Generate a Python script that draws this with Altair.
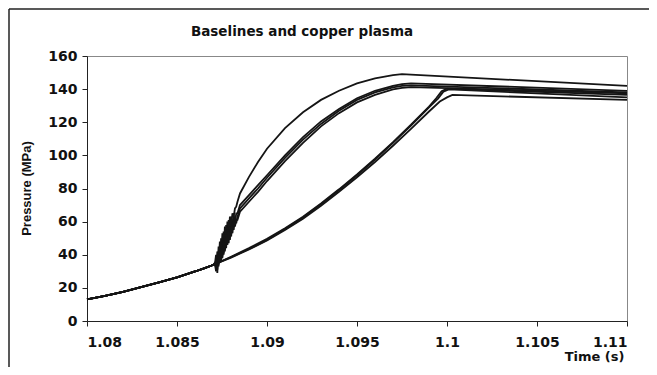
import altair as alt
import pandas as pd

# ---- data ----
CHART_TITLE = "Baselines and copper plasma"

# common rise before the onset (all runs)
PRE_T = [1.080, 1.081, 1.082, 1.083, 1.084, 1.085, 1.086, 1.0865, 1.087]
PRE_P = [13.0, 15.1, 17.6, 20.4, 23.3, 26.4, 29.9, 31.8, 33.8]

# baselines (slow rise)
SLOW_T = [1.088, 1.089, 1.090, 1.091, 1.092, 1.093, 1.094, 1.095, 1.096, 1.097, 1.098, 1.099]
S1_P = [38.8, 44.0, 49.6, 56.0, 63.0, 71.0, 79.5, 88.5, 98.0, 108.0, 118.5, 129.5]
S2_P = [38.5, 43.5, 49.0, 55.5, 62.5, 70.5, 79.0, 88.0, 97.5, 107.5, 118.0, 129.0]
S3_P = [38.3, 43.2, 48.6, 55.0, 61.8, 69.6, 78.0, 86.8, 96.0, 105.8, 116.0, 126.5]
S1_TAIL_T = [1.0994, 1.0997, 1.1000, 1.1100]
S1_TAIL_P = [134.5, 138.8, 140.3, 136.5]
S2_TAIL_T = [1.0995, 1.0998, 1.1001, 1.1100]
S2_TAIL_P = [134.3, 138.5, 139.8, 135.0]
S3_TAIL_T = [1.0996, 1.1000, 1.1003, 1.1100]
S3_TAIL_P = [132.5, 135.0, 136.5, 133.5]

# copper plasma (noisy onset, fast rise)
NOISE_T = [1.08710, 1.08717, 1.08724, 1.08731, 1.08738, 1.08745, 1.08752, 1.08759,
           1.08766, 1.08773, 1.08780, 1.08787, 1.08794, 1.08801, 1.08808, 1.08815,
           1.08822, 1.08829, 1.08836]
F1_NOISE = [35, 30, 42, 33, 48, 37, 53, 41, 57, 46, 60, 52, 63, 58, 65, 63, 68, 69, 72]
F2_NOISE = [34, 40, 29, 45, 35, 50, 39, 54, 43, 58, 47, 61, 51, 63, 55, 64, 59, 65, 65]
F3_NOISE = [35, 32, 38, 34, 44, 36, 47, 40, 51, 44, 55, 47, 57, 51, 60, 55, 62, 59, 63]
F4_NOISE = [34, 36, 31, 40, 35, 43, 38, 48, 42, 52, 46, 54, 49, 57, 53, 60, 57, 61, 61]
FAST_T = [1.0885, 1.089, 1.0895, 1.090, 1.091, 1.092, 1.093, 1.094, 1.095, 1.096, 1.097, 1.0975, 1.098, 1.110]
F1_P = [77.0, 87.0, 96.0, 104.0, 116.5, 126.0, 133.5, 139.0, 143.5, 146.5, 148.5, 149.0, 148.7, 142.0]
F2_P = [70.0, 76.0, 82.0, 88.0, 100.0, 111.0, 120.5, 128.0, 134.5, 139.0, 142.0, 143.0, 143.5, 139.0]
F3_P = [68.0, 74.0, 80.0, 86.5, 98.5, 109.5, 119.0, 127.0, 133.5, 138.0, 141.0, 142.0, 142.3, 138.0]
F4_P = [66.0, 72.0, 78.0, 84.5, 96.5, 107.5, 117.5, 125.5, 132.0, 136.5, 139.8, 140.8, 141.2, 137.5]

X_TICKS = [1.08, 1.085, 1.09, 1.095, 1.1, 1.105, 1.11]
Y_TICKS = [0, 20, 40, 60, 80, 100, 120, 140, 160]

# ---- build long table ----
series = {
    "S1": (PRE_T + SLOW_T + S1_TAIL_T, PRE_P + S1_P + S1_TAIL_P),
    "S2": (PRE_T + SLOW_T + S2_TAIL_T, PRE_P + S2_P + S2_TAIL_P),
    "S3": (PRE_T + SLOW_T + S3_TAIL_T, PRE_P + S3_P + S3_TAIL_P),
    "F1": (PRE_T + NOISE_T + FAST_T, PRE_P + F1_NOISE + F1_P),
    "F2": (PRE_T + NOISE_T + FAST_T, PRE_P + F2_NOISE + F2_P),
    "F3": (PRE_T + NOISE_T + FAST_T, PRE_P + F3_NOISE + F3_P),
    "F4": (PRE_T + NOISE_T + FAST_T, PRE_P + F4_NOISE + F4_P),
}
rows = []
for name, (ts, ps) in series.items():
    for i, (t, p) in enumerate(zip(ts, ps)):
        rows.append({"run": name, "order": i, "t": t, "p": p})
df = pd.DataFrame(rows)

WIDE = "DejaVu Sans"
NARROW = "Liberation Sans"

lines = alt.Chart(df).mark_line(color="#151515", strokeWidth=1.8).encode(
    x=alt.X("t:Q",
            scale=alt.Scale(domain=[1.08, 1.11], nice=False, zero=False),
            axis=alt.Axis(values=X_TICKS, format="~g", title="Time (s)",
                          titleAnchor="end", titleAlign="right", titleX=537, titleY=39,
                          titleBaseline="alphabetic", titleFont=WIDE, titleFontSize=13,
                          labelPadding=9)),
    y=alt.Y("p:Q",
            scale=alt.Scale(domain=[0, 160], nice=False),
            axis=alt.Axis(values=Y_TICKS, title="Pressure (MPa)",
                          titleX=-54, titleY=132, titleBaseline="bottom",
                          titleAlign="center", titleFont=NARROW, titleFontSize=13,
                          labelPadding=5)),
    detail="run:N",
    order="order:Q",
)

title_mark = alt.Chart(alt.Data(values=[{}])).mark_text(
    font=WIDE, fontSize=13.5, fontWeight="bold", color="#111",
    align="center", baseline="alphabetic").encode(
    x=alt.value(215), y=alt.value(-20), text=alt.value(CHART_TITLE))

border_left = alt.Chart(alt.Data(values=[{}])).mark_rule(color="#222", strokeWidth=1.5).encode(
    x=alt.value(-78), y=alt.value(-47), y2=alt.value(330))
border_top = alt.Chart(alt.Data(values=[{}])).mark_rule(color="#222", strokeWidth=1.5).encode(
    x=alt.value(-78), x2=alt.value(600), y=alt.value(-47))

chart = alt.layer(lines, title_mark, border_left, border_top).properties(
    width=540, height=265,
    background="white",
    autosize=alt.AutoSizeParams(type="none"),
    padding={"left": 79, "top": 48, "right": 22, "bottom": 46},
).configure_view(stroke="#888", strokeWidth=1).configure_axis(
    grid=False, labelFont=WIDE, labelFontSize=14, labelFontWeight="bold",
    labelColor="#111", titleFontWeight="bold",
    titleColor="#111", domainColor="#222", tickColor="#222", tickSize=5,
    domainWidth=1, tickWidth=1,
)

chart.save("out.html", embed_options={"renderer": "svg", "actions": False})
